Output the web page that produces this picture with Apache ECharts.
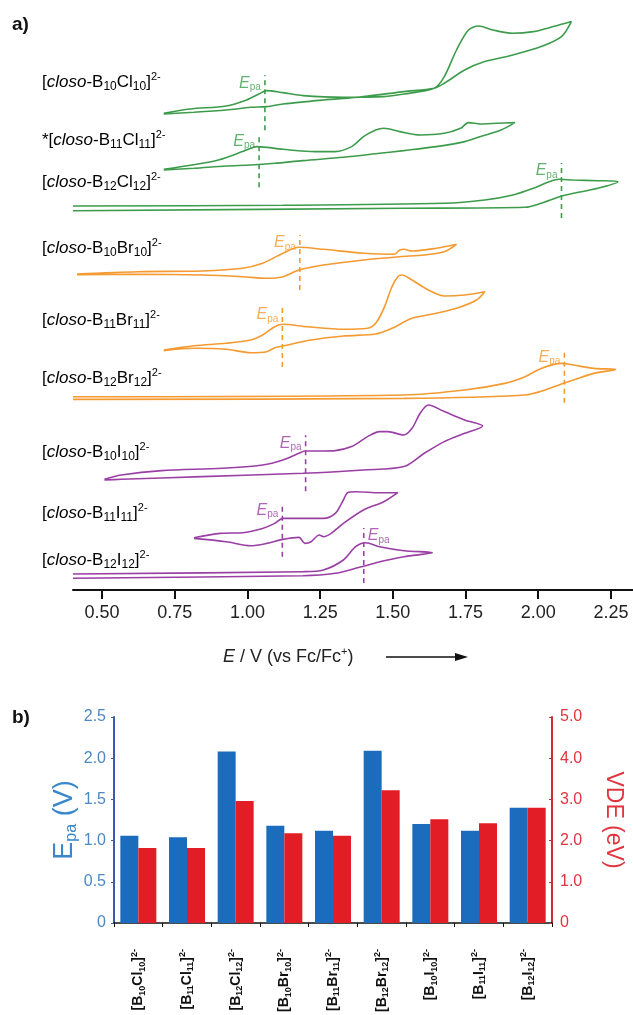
<!DOCTYPE html>
<html><head><meta charset="utf-8">
<script src="https://cdn.jsdelivr.net/npm/echarts@6/dist/echarts.min.js"></script>
<style>html,body{margin:0;padding:0;background:#fff}#c{width:633px;height:1015px}</style>
</head><body><div id="c"></div><script>
// ---------------- data ----------------
const compounds = ['B10Cl10','B11Cl11','B12Cl12','B10Br10','B11Br11','B12Br12','B10I10','B11I11','B12I12'];
const traceNames = ['[closo-B10Cl10]','*[closo-B11Cl11]','[closo-B12Cl12]','[closo-B10Br10]','[closo-B11Br11]','[closo-B12Br12]','[closo-B10I10]','[closo-B11I11]','[closo-B12I12]'];
// anodic peak potentials E_pa (V vs Fc/Fc+)
const epa = [1.06, 1.04, 2.08, 1.18, 1.12, 2.09, 1.20, 1.12, 1.40];
// vertical detachment energies (eV)
const vde = [1.82, 1.82, 2.96, 2.18, 2.12, 3.22, 2.52, 2.42, 2.80];
// vertical stacking offsets of the CV traces (current, a.u.)
const cvOffsets = [476.7, 420.7, 384, 316, 240, 193.3, 110.7, 52.3, 16];
// cyclic voltammograms: [E (V), I (a.u.)]
const cvB10Cl10 = [[0.712,0],[0.803,4.3],[0.927,7.3],[0.997,13.3],[1.039,19.3],[1.066,22.7],[1.122,20.7],[1.191,17.7],[1.330,16],[1.469,16.7],[1.538,19.3],[1.642,25],[1.677,36.7],[1.719,63.3],[1.760,83.3],[1.795,87.3],[1.844,83.3],[1.913,80],[1.983,81.7],[2.052,86.7],[2.114,91.7],[2.080,76.7],[2.010,66.7],[1.913,58.3],[1.816,51.7],[1.747,43.3],[1.677,30],[1.642,25],[1.538,21.7],[1.399,16.7],[1.261,13.3],[1.122,9.3],[1.066,6.7],[1.011,6],[0.927,3.3],[0.816,1],[0.712,-0.7]];
const cvB11Cl11 = [[0.712,0],[0.809,4.3],[0.900,9.3],[0.983,17.7],[1.011,21],[1.032,22.7],[1.122,20],[1.233,17.7],[1.302,17.7],[1.358,22.7],[1.399,32.7],[1.441,39.3],[1.469,41],[1.524,37.7],[1.594,34.3],[1.677,36],[1.733,41],[1.760,46.7],[1.802,45.3],[1.858,46],[1.920,46.7],[1.872,39.3],[1.802,32.7],[1.747,27.7],[1.649,22.7],[1.538,18.7],[1.455,16],[1.330,12],[1.191,8.7],[1.094,6],[1.011,4.3],[0.927,3.3],[0.816,1],[0.712,-0.7]];
const cvB12Cl12 = [[0.400,0],[1.122,0.7],[1.677,2.7],[1.816,6],[1.913,11],[1.983,17.7],[2.038,24.3],[2.073,26.7],[2.121,26],[2.205,25.3],[2.274,24.3],[2.205,17.7],[2.121,12.7],[2.073,9.3],[2.010,2.7],[1.955,-1.3],[1.538,-2.3],[0.400,-4.7]];
const cvB10Br10 = [[0.414,0],[0.622,2.3],[0.844,3],[0.983,5.7],[1.052,10.7],[1.122,20.7],[1.177,26.7],[1.261,24.7],[1.399,20.7],[1.504,19.7],[1.524,24],[1.538,24.7],[1.566,23],[1.649,25.7],[1.719,29.7],[1.677,22.3],[1.608,19],[1.524,17.3],[1.399,14],[1.261,9],[1.177,4],[1.122,-2.7],[1.066,-4.3],[0.983,-2.7],[0.844,-1],[0.622,-0.3],[0.414,-0.7]];
const cvB11Br11 = [[0.712,0],[0.816,4.3],[0.927,6.7],[1.011,10],[1.052,15],[1.094,23.3],[1.122,25.7],[1.205,23.3],[1.330,20.7],[1.413,21.7],[1.441,26.7],[1.469,41.7],[1.497,63.3],[1.517,73.3],[1.531,75],[1.566,70],[1.622,60],[1.677,54],[1.747,55],[1.816,58.3],[1.788,50],[1.719,41.7],[1.649,36.7],[1.566,31.7],[1.497,21.7],[1.441,16],[1.330,14],[1.219,10],[1.122,4],[1.094,2.3],[1.066,-1.7],[1.011,-2.7],[0.927,0.7],[0.816,1.7],[0.712,-0.7]];
const cvB12Br12 = [[0.400,0],[1.538,1.7],[1.747,6.7],[1.885,13.3],[1.955,20],[2.010,28.3],[2.080,33.3],[2.121,31.7],[2.191,28.3],[2.267,27.3],[2.191,23.3],[2.121,16.7],[2.080,12.7],[2.024,6.7],[1.955,1.7],[1.538,-1.7],[0.400,-2.7]];
const cvB10I10 = [[0.508,0],[0.566,4.3],[0.705,8.7],[0.914,11],[1.052,14.3],[1.122,19.3],[1.177,26],[1.198,28.3],[1.261,28.3],[1.302,28.7],[1.358,32.7],[1.413,42.7],[1.455,47.7],[1.483,47.7],[1.538,44.3],[1.566,51],[1.594,66],[1.622,74.3],[1.677,67.7],[1.747,59.3],[1.809,53.3],[1.747,46],[1.677,37.7],[1.608,26],[1.538,12.7],[1.399,9.3],[1.191,6],[0.844,2.7],[0.566,0],[0.508,-0.7]];
const cvB11I11 = [[0.816,0],[0.907,4.3],[0.983,5],[1.052,9.3],[1.094,14.3],[1.122,19.3],[1.205,19.3],[1.261,19.3],[1.302,24.3],[1.330,37.7],[1.344,45],[1.372,46],[1.455,45],[1.517,45],[1.469,36],[1.399,27.7],[1.330,14.3],[1.288,4.3],[1.261,1],[1.247,2.7],[1.219,-4],[1.198,-5.7],[1.177,0.3],[1.122,-1.7],[1.066,-5.7],[1.011,-8],[0.927,-4],[0.816,-0.7]];
const cvB12I12 = [[0.400,0],[1.191,2.3],[1.261,4],[1.330,14],[1.372,27.3],[1.406,31.3],[1.455,27.3],[1.538,23.3],[1.636,21.3],[1.538,17.3],[1.455,12.3],[1.406,8.3],[1.372,5.7],[1.302,0.7],[1.191,-1.7],[0.400,-4.3]];
const cvTraces = [cvB10Cl10, cvB11Cl11, cvB12Cl12, cvB10Br10, cvB11Br11, cvB12Br12, cvB10I10, cvB11I11, cvB12I12];
// extent of the dashed E_pa markers (current a.u., relative to each trace)
const epaMarkTop = [38, 36, 43, 39, 43, 47, 44, 35, 46];
const epaMarkBottom = [-17, -18, -12, -16, -17, -6, -12, -19, -9];
// tick values
const xMajorTicks = [0.50, 0.75, 1.00, 1.25, 1.50, 1.75, 2.00, 2.25];
const xMinorTicks = [0.625, 0.875, 1.125, 1.375, 1.625, 1.875, 2.125];
const epaTicks = [0, 0.5, 1.0, 1.5, 2.0, 2.5];
const vdeTicks = [0, 1, 2, 3, 4, 5];

// ---------------- styles ----------------
const GREEN = '#3d9c4c', ORANGE = '#f49a30', PURPLE = '#9a3fa4';
const traceColors = [GREEN, GREEN, GREEN, ORANGE, ORANGE, ORANGE, PURPLE, PURPLE, PURPLE];
const BLUE = '#1b6cbc', RED = '#e31d26';
const FONT = 'Liberation Sans, Arial, sans-serif';

function chemRich(formula, m, s) {
  return formula.replace(/([A-Z][a-z]?)(\d+)/g, (_, el, n) => `{${m}|${el}}{${s}|${n}}`);
}
function traceLabel(name) {
  const star = name.startsWith('*') ? '*' : '';
  const f = name.replace(/^\*?\[closo-/, '').replace(']', '');
  return `{n|${star}[}{i|closo}{n|-}` + chemRich(f, 'n', 's') + '{n|]}{p|2-}';
}
function barLabel(f) {
  return '{b|[}' + chemRich(f, 'b', 's') + '{b|]}{p|2-}';
}

const chart = echarts.init(document.getElementById('c'), null, {renderer: 'canvas'});

const series = [];
cvTraces.forEach((tr, i) => {
  series.push({
    type: 'line', xAxisIndex: 0, yAxisIndex: 0, smooth: 0.3, symbol: 'none',
    data: tr.map(p => [p[0], cvOffsets[i] + p[1]]),
    lineStyle: {color: traceColors[i], width: 1.6}, silent: true, z: 3
  });
  series.push({
    type: 'line', xAxisIndex: 0, yAxisIndex: 0, symbol: 'none',
    data: [[epa[i], cvOffsets[i] + epaMarkBottom[i]], [epa[i], cvOffsets[i] + epaMarkTop[i]]],
    lineStyle: {color: traceColors[i], width: 1.6, type: [5, 4]}, silent: true, z: 2
  });
});
// E_pa labels
series.push({
  type: 'scatter', xAxisIndex: 0, yAxisIndex: 0, symbolSize: 0, silent: true,
  data: epa.map((e, i) => ({
    value: [e, cvOffsets[i] + epaMarkTop[i] - 8],
    label: {show: true, position: i === 8 ? 'right' : 'left', distance: 4, color: traceColors[i],
      formatter: '{e|E}{s|pa}',
      rich: {e: {fontSize: 16, fontStyle: 'italic', fontFamily: FONT, color: traceColors[i], lineHeight: 18, verticalAlign: 'middle'},
             s: {fontSize: 10, fontFamily: FONT, color: traceColors[i], lineHeight: 10, verticalAlign: 'bottom'}}}
  }))
});
series.push({type: 'bar', name: 'Epa', xAxisIndex: 2, yAxisIndex: 1, data: epa, barWidth: 18, barGap: '0%', itemStyle: {color: BLUE}});
series.push({type: 'bar', name: 'VDE', xAxisIndex: 2, yAxisIndex: 2, data: vde, barWidth: 18, barGap: '0%', itemStyle: {color: RED}});

const labelRich = {
  n: {fontSize: 17, fontFamily: FONT, color: '#222', lineHeight: 22, verticalAlign: 'middle'},
  i: {fontSize: 17, fontFamily: FONT, fontStyle: 'italic', color: '#222', lineHeight: 22, verticalAlign: 'middle'},
  s: {fontSize: 12, fontFamily: FONT, color: '#222', lineHeight: 12, verticalAlign: 'bottom'},
  p: {fontSize: 11, fontFamily: FONT, color: '#222', lineHeight: 11, verticalAlign: 'top'}
};
const labelY = [82, 140, 182, 248, 320, 378, 452, 513, 560];

const graphic = [
  {type: 'text', x: 12, y: 25, style: {text: 'a)', font: 'bold 19px ' + FONT, fill: '#111', verticalAlign: 'middle'}},
  {type: 'text', x: 12, y: 718, style: {text: 'b)', font: 'bold 19px ' + FONT, fill: '#111', verticalAlign: 'middle'}},
  {type: 'text', x: 223, y: 657, style: {text: '{i|E}{n| / V (vs Fc/Fc}{p|+}{n|)}', verticalAlign: 'middle', rich: {
    i: {fontSize: 18, fontStyle: 'italic', fontFamily: FONT, fill: '#222', lineHeight: 22, verticalAlign: 'middle'},
    n: {fontSize: 18, fontFamily: FONT, fill: '#222', lineHeight: 22, verticalAlign: 'middle'},
    p: {fontSize: 11, fontFamily: FONT, fill: '#222', lineHeight: 11, verticalAlign: 'top'}}}},
  {type: 'line', shape: {x1: 386, y1: 657, x2: 456, y2: 657}, style: {stroke: '#111', lineWidth: 1.5}},
  {type: 'polygon', shape: {points: [[455, 653], [468, 657], [455, 661]]}, style: {fill: '#111'}}
];
traceNames.forEach((nm, i) => {
  graphic.push({type: 'text', x: 42, y: labelY[i], style: {text: traceLabel(nm), verticalAlign: 'middle', rich: labelRich}});
});

const option = {
  animation: false,
  backgroundColor: '#fff',
  grid: [
    {left: 73, top: 0, width: 560, height: 590},
    {left: 114, top: 717, width: 444, height: 209}
  ],
  xAxis: [
    {type: 'value', gridIndex: 0, min: 0.40, max: 2.326,
     axisLine: {show: true, lineStyle: {color: '#111', width: 2}},
     axisTick: {show: true, customValues: xMajorTicks, length: 9, lineStyle: {color: '#111', width: 2}},
     axisLabel: {show: true, customValues: xMajorTicks, formatter: v => v.toFixed(2), fontSize: 18, fontFamily: FONT, color: '#222', margin: 14},
     splitLine: {show: false}},
    {type: 'value', gridIndex: 0, min: 0.40, max: 2.326,
     axisLine: {show: false},
     axisTick: {show: true, customValues: xMinorTicks, length: 5, lineStyle: {color: '#111', width: 2}},
     axisLabel: {show: false}, splitLine: {show: false}},
    {type: 'category', gridIndex: 1, data: compounds,
     axisLine: {lineStyle: {color: '#111', width: 1.5}},
     axisTick: {show: true, length: 4, lineStyle: {color: '#111'}},
     axisLabel: {rotate: 90, margin: 26, formatter: v => barLabel(v), rich: {
       b: {fontSize: 14, fontWeight: 'bold', fontFamily: FONT, color: '#111', lineHeight: 17, verticalAlign: 'middle'},
       s: {fontSize: 9, fontWeight: 'bold', fontFamily: FONT, color: '#111', lineHeight: 9, verticalAlign: 'bottom'},
       p: {fontSize: 9, fontWeight: 'bold', fontFamily: FONT, color: '#111', lineHeight: 9, verticalAlign: 'top'}}},
     splitLine: {show: false}}
  ],
  yAxis: [
    {type: 'value', gridIndex: 0, min: 0, max: 590, show: false},
    {type: 'value', gridIndex: 1, min: 0, max: 2.5, interval: 0.5, position: 'left',
     axisLine: {show: true, lineStyle: {color: '#3b5cab', width: 2}},
     axisTick: {show: true, length: 3, lineStyle: {color: '#3b5cab'}},
     axisLabel: {fontSize: 16, fontFamily: FONT, color: '#4a89c6', margin: 8, customValues: epaTicks,
       formatter: v => v === 0 ? '0' : v.toFixed(1)},
     splitLine: {show: false},
     name: '{e|E}{s|pa}{e| (V)}', nameLocation: 'middle', nameGap: 34, nameMoveOverlap: false,
     nameTextStyle: {rich: {
       e: {fontSize: 27, fontFamily: FONT, color: '#3a87c9', lineHeight: 30, verticalAlign: 'middle'},
       s: {fontSize: 16, fontFamily: FONT, color: '#3a87c9', lineHeight: 16, verticalAlign: 'bottom'}}}},
    {type: 'value', gridIndex: 1, min: 0, max: 5, interval: 1, position: 'right',
     axisLine: {show: true, lineStyle: {color: '#d22a35', width: 2}},
     axisTick: {show: true, length: 3, inside: true, lineStyle: {color: '#d22a35'}},
     axisLabel: {fontSize: 16, fontFamily: FONT, color: '#e0353e', margin: 8, customValues: vdeTicks,
       formatter: v => v === 0 ? '0' : v.toFixed(1)},
     splitLine: {show: false},
     name: 'VDE (eV)', nameLocation: 'middle', nameGap: 50, nameRotate: -90,
     nameTextStyle: {fontSize: 23, fontFamily: FONT, color: '#e0353e'}}
  ],
  series: series,
  graphic: graphic
};
chart.setOption(option);
</script></body></html>
